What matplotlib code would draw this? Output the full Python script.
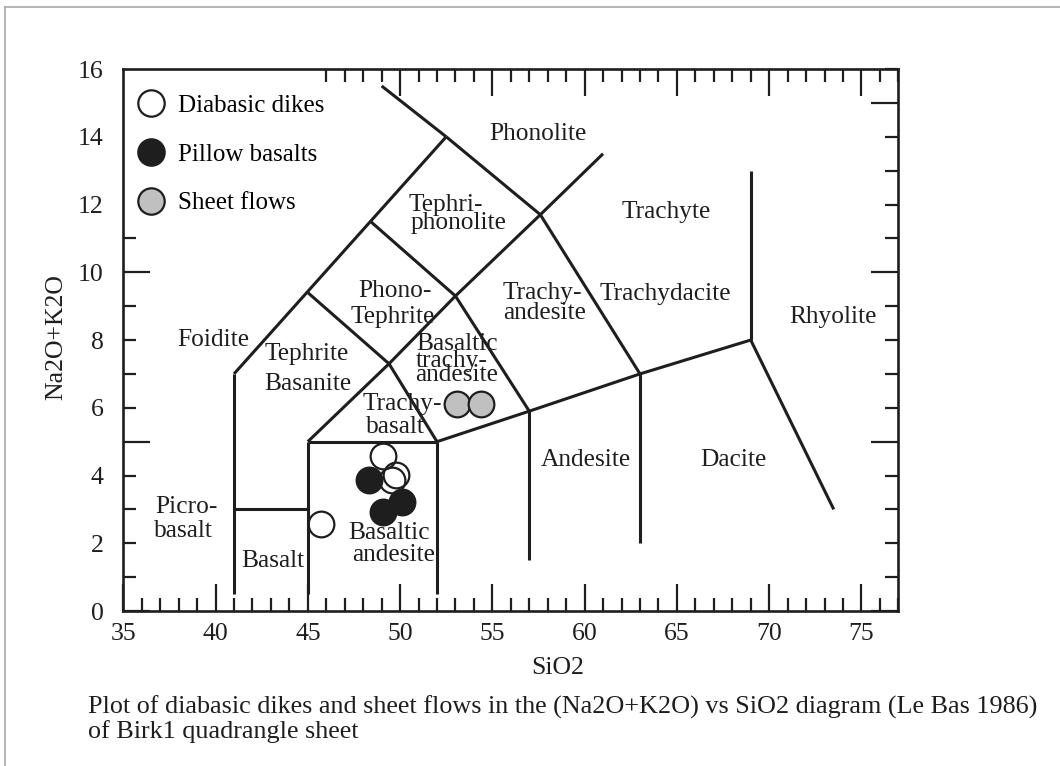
import matplotlib
matplotlib.use("Agg")
import matplotlib.pyplot as plt
from matplotlib.lines import Line2D
from matplotlib.ticker import MultipleLocator, FuncFormatter

plt.rcParams['font.family'] = 'Liberation Serif'
INK = '#1e1e1e'

# sample analyses: SiO2 (wt%) and total alkalis Na2O+K2O (wt%)
dikes_sio2 = [49.06, 49.77, 49.55, 45.72]
dikes_alk = [4.57, 4.01, 3.88, 2.57]
pillow_sio2 = [48.29, 50.10, 49.07]
pillow_alk = [3.86, 3.22, 2.93]
sheet_sio2 = [53.08, 54.38]
sheet_alk = [6.12, 6.12]

# TAS field boundaries (Le Bas et al. 1986)
tas_lines = [
    ([41, 41], [0.5, 7]),
    ([41, 52.5], [7, 14]),
    ([52.5, 49], [14, 15.5]),
    ([41, 45], [3, 3]),
    ([45, 45], [0.5, 5]),
    ([45, 52], [5, 5]),
    ([52, 52], [0.5, 5]),
    ([45, 49.4, 53, 57.6, 61], [5, 7.3, 9.3, 11.7, 13.5]),
    ([45, 49.4, 52], [9.4, 7.3, 5]),
    ([48.4, 53, 57], [11.5, 9.3, 5.9]),
    ([52.5, 57.6, 63], [14, 11.7, 7]),
    ([52, 57, 63, 69], [5, 5.9, 7, 8]),
    ([57, 57], [1.5, 5.9]),
    ([63, 63], [2, 7]),
    ([69, 69], [8, 13]),
    ([69, 73.5], [8, 3]),
]

# field names, one entry per text line
field_names = [
    ("Phonolite", 57.46, 14.07, 'center'),
    ("Tephri-", 50.46, 12.0, 'left'),
    ("phonolite", 50.55, 11.46, 'left'),
    ("Phono-", 49.73, 9.46, 'center'),
    ("Tephrite", 49.60, 8.69, 'center'),
    ("Trachy-", 55.53, 9.38, 'left'),
    ("andesite", 55.60, 8.80, 'left'),
    ("Trachyte", 64.43, 11.79, 'center'),
    ("Trachydacite", 64.39, 9.37, 'center'),
    ("Rhyolite", 73.44, 8.67, 'center'),
    ("Foidite", 39.90, 8.0, 'center'),
    ("Tephrite", 42.63, 7.58, 'left'),
    ("Basanite", 42.63, 6.70, 'left'),
    ("Basaltic", 50.87, 7.87, 'left'),
    ("trachy-", 50.84, 7.39, 'left'),
    ("andesite", 50.84, 6.96, 'left'),
    ("Trachy-", 47.98, 6.11, 'left'),
    ("basalt", 48.16, 5.42, 'left'),
    ("Andesite", 60.09, 4.45, 'center'),
    ("Dacite", 68.05, 4.45, 'center'),
    ("Picro-", 36.73, 3.07, 'left'),
    ("basalt", 36.67, 2.35, 'left'),
    ("Basalt", 43.10, 1.49, 'center'),
    ("Basaltic", 47.20, 2.31, 'left'),
    ("andesite", 47.39, 1.65, 'left'),
]

fig = plt.figure(figsize=(10.6, 7.66), dpi=100)
ax = fig.add_axes([0.1163, 0.2023, 0.7312, 0.7076])

for xs, ys in tas_lines:
    ax.plot(xs, ys, color=INK, lw=2.2, solid_capstyle='butt', zorder=2)

for name, x, y, ha in field_names:
    ax.text(x, y, name, fontsize=18.3, ha=ha, va='center', color=INK, zorder=3)

ax.plot(dikes_sio2, dikes_alk, ls='none', marker='o', ms=18.5, mfc='none',
        mec=INK, mew=1.6, zorder=4)
ax.plot(pillow_sio2, pillow_alk, ls='none', marker='o', ms=18.5, mfc=INK,
        mec=INK, mew=1.6, zorder=5)
ax.plot(sheet_sio2, sheet_alk, ls='none', marker='o', ms=18.5, mfc='#c0c0c0',
        mec=INK, mew=1.6, zorder=5)

handles = [
    Line2D([], [], ls='none', marker='o', ms=19, mfc='white', mec=INK, mew=1.6),
    Line2D([], [], ls='none', marker='o', ms=19, mfc=INK, mec=INK, mew=1.6),
    Line2D([], [], ls='none', marker='o', ms=19, mfc='#c0c0c0', mec=INK, mew=1.6),
]
ax.legend(handles, ["Diabasic dikes", "Pillow basalts", "Sheet flows"],
          loc='upper left', bbox_to_anchor=(0.0196, 0.953), frameon=False,
          fontsize=18, handlelength=1.0, handletextpad=0.58, labelspacing=1.05,
          borderaxespad=0, borderpad=0)

ax.set_xlim(35, 77)
ax.set_ylim(0, 16)
ax.xaxis.set_major_locator(MultipleLocator(1))
ax.yaxis.set_major_locator(MultipleLocator(1))
ax.xaxis.set_major_formatter(FuncFormatter(lambda v, p: f"{v:.0f}" if round(v) % 5 == 0 else ""))
ax.yaxis.set_major_formatter(FuncFormatter(lambda v, p: f"{v:.0f}" if round(v) % 2 == 0 else ""))
ax.tick_params(direction='in', length=9.5, width=1.6, color=INK, labelcolor=INK,
               top=True, right=True, labelsize=18.5)
ax.tick_params(axis='x', pad=8.5)
ax.tick_params(axis='y', pad=14)

for s in ax.spines.values():
    s.set_linewidth(1.9)
    s.set_color(INK)

# long ticks every 5 units; no ticks under the legend block
for v, t in zip(ax.get_xticks(), ax.xaxis.get_major_ticks()):
    if round(v) % 5 == 0:
        t.tick1line.set_markersize(19.5)
        t.tick2line.set_markersize(19.5)
    if v < 45.5:
        t.tick2line.set_visible(False)
for v, t in zip(ax.get_yticks(), ax.yaxis.get_major_ticks()):
    if round(v) % 5 == 0:
        t.tick1line.set_markersize(19.5)
        t.tick2line.set_markersize(19.5)
    if v > 11.5:
        t.tick1line.set_visible(False)

ax.set_xlabel("SiO2", fontsize=18.5, color=INK)
ax.xaxis.set_label_coords(0.56, -0.085)
ax.set_ylabel("Na2O+K2O", fontsize=18.5, color=INK)
ax.yaxis.set_label_coords(-0.072, 0.505)

fig.text(0.083, 0.061,
         "Plot of diabasic dikes and sheet flows in the (Na2O+K2O) vs SiO2 diagram (Le Bas 1986)\n"
         "of Birk1 quadrangle sheet",
         fontsize=18.8, color=INK, ha='left', va='center', linespacing=1.1)

# thin page frame
fig.add_artist(Line2D([0.0047, 1.0], [0.9909, 0.9909], transform=fig.transFigure,
                      color='#a8a8a8', lw=1.2))
fig.add_artist(Line2D([0.0047, 0.0047], [0.0, 0.9909], transform=fig.transFigure,
                      color='#a8a8a8', lw=1.2))

fig.savefig("out.png", dpi=100)
